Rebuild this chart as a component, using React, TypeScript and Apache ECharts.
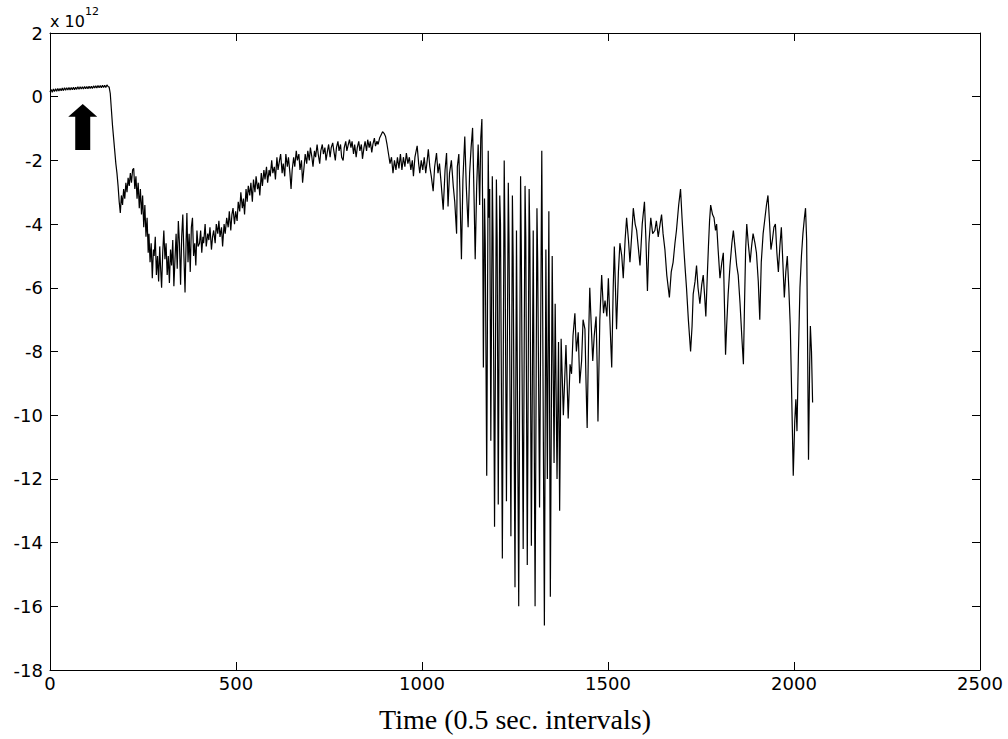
import React, { useEffect, useRef } from "react";
import * as echarts from "echarts";

type Pt = [number, number];

// Signal values (units of 1e12): [time index, value]
const flatPhase: Pt[] = [
  [0, 0.15], [3, 0.23], [6, 0.14], [9, 0.24], [12, 0.16], [15, 0.25], [18, 0.17], [21, 0.26],
  [24, 0.18], [27, 0.26], [30, 0.19], [33, 0.27], [36, 0.19], [39, 0.28], [42, 0.2], [45, 0.28],
  [48, 0.21], [51, 0.29], [54, 0.21], [57, 0.29], [60, 0.22], [63, 0.3], [66, 0.22], [69, 0.3],
  [72, 0.23], [75, 0.31], [78, 0.23], [81, 0.31], [84, 0.24], [87, 0.31], [90, 0.24], [93, 0.32],
  [96, 0.25], [99, 0.32], [102, 0.25], [105, 0.33], [108, 0.26], [111, 0.33], [114, 0.26],
  [117, 0.34], [120, 0.27], [123, 0.34], [126, 0.27], [129, 0.35], [132, 0.28], [135, 0.35],
  [138, 0.28], [141, 0.36], [144, 0.29], [147, 0.36], [150, 0.29], [153, 0.37], [156, 0.32], [159, 0.3],
];

const dropPhase: Pt[] = [
  [162, 0.1], [165, -0.4], [168, -0.9], [171, -1.3], [174, -1.7], [177, -2.1], [180, -2.4],
  [183, -2.8], [186, -3.3], [189, -3.65], [192, -3.1], [195, -3.4], [198, -2.9], [201, -3.2],
  [204, -2.7], [207, -3.0], [210, -2.55], [213, -2.8], [216, -2.4], [219, -2.7], [222, -2.3],
  [225, -2.25], [228, -2.9], [231, -2.5], [234, -3.2], [237, -2.7], [240, -3.5], [243, -2.9],
  [246, -3.7], [249, -3.1], [252, -4.1], [255, -3.4], [258, -4.4], [261, -3.8], [264, -4.9],
  [266, -4.3], [269, -5.2], [272, -4.6], [275, -5.7], [278, -4.8], [280, -5.0], [283, -4.4],
  [286, -5.6], [289, -5.0], [292, -5.8], [295, -4.7], [297, -5.3], [300, -6.0], [303, -4.9],
  [306, -4.2], [309, -5.1], [312, -4.6], [315, -5.6], [318, -5.0], [321, -5.85], [324, -4.8],
  [327, -5.3], [330, -4.5], [333, -5.95], [336, -5.1], [339, -4.3], [342, -5.4], [345, -3.9],
  [348, -4.6], [351, -5.9], [354, -4.4], [357, -3.7], [360, -5.0], [363, -6.15], [366, -4.5],
  [368, -3.65], [371, -5.2], [374, -4.3], [377, -5.5], [380, -4.1], [383, -3.8], [386, -5.0],
  [389, -4.6], [392, -5.3], [395, -4.2], [398, -4.7],
];

const recoveryPhase: Pt[] = [
  [402, -4.6], [405, -4.2], [408, -4.9], [411, -4.4], [413, -4.6], [417, -4.0], [420, -4.7],
  [424, -4.3], [427, -4.5], [430, -4.1], [434, -4.8], [437, -4.4], [440, -4.2], [444, -4.6],
  [447, -4.0], [451, -4.3], [454, -3.9], [457, -4.4], [461, -4.1], [464, -4.7], [468, -4.0],
  [471, -4.3], [475, -3.8], [479, -4.1], [482, -3.6], [486, -4.2], [489, -3.7], [492, -3.5],
  [496, -4.0], [499, -3.6], [503, -3.9], [506, -3.3], [510, -3.6], [513, -3.0], [517, -3.5],
  [520, -3.2], [523, -3.7], [527, -2.9], [530, -3.3], [533, -2.8], [537, -3.1], [540, -2.7],
  [544, -3.3], [547, -2.6], [551, -3.0], [554, -2.5], [558, -2.9], [561, -2.7], [564, -3.1],
  [568, -2.4], [571, -2.8], [575, -2.3], [578, -2.6], [582, -2.2], [585, -2.7], [589, -2.3],
  [592, -2.5], [596, -2.0], [599, -2.4], [603, -2.2], [606, -2.6], [610, -1.9], [613, -2.3],
  [617, -2.0], [620, -1.8], [624, -2.4], [627, -2.1], [631, -2.5], [634, -1.8], [638, -2.2],
  [641, -1.9], [645, -2.4], [648, -2.9], [651, -2.3], [655, -1.9], [658, -2.2], [662, -1.7],
  [665, -2.0], [669, -1.8], [672, -2.3], [676, -2.0], [679, -2.7], [683, -2.2], [686, -1.8],
  [690, -2.1], [693, -1.7], [697, -2.0], [700, -1.6], [704, -1.9], [707, -2.2], [711, -1.7],
  [714, -1.9], [718, -1.5], [721, -1.8], [725, -2.1], [728, -1.7], [732, -1.5], [735, -1.8],
  [739, -1.6], [742, -2.0], [746, -1.7], [749, -1.5], [753, -1.9], [756, -1.6], [760, -1.45],
  [763, -1.7], [767, -2.0], [770, -1.6], [774, -1.4], [777, -1.7], [781, -1.5], [784, -1.9],
  [788, -2.0], [791, -1.6], [795, -1.4], [798, -1.7], [802, -1.5], [805, -1.35], [809, -1.6],
  [812, -1.4], [816, -1.8], [819, -1.5], [823, -1.9], [826, -1.6], [830, -1.4], [833, -1.7],
  [837, -1.5], [840, -1.95], [844, -1.6], [847, -1.4], [851, -1.7], [854, -1.35], [858, -1.6],
  [861, -1.4], [865, -1.75], [868, -1.5], [872, -1.3], [875, -1.55], [879, -1.4], [882, -1.5],
];

const plateauPhase: Pt[] = [
  [886, -1.3], [890, -1.2], [894, -1.1], [898, -1.15], [902, -1.25], [906, -1.5], [910, -1.8],
  [914, -2.1], [918, -1.9], [922, -2.4], [926, -2.0], [930, -2.3], [934, -1.9], [938, -2.25],
  [942, -1.8], [946, -2.3], [950, -1.9], [954, -2.2], [958, -1.77], [962, -2.1], [966, -1.9],
  [970, -2.3], [974, -2.0], [977, -2.5], [981, -1.9], [987, -1.54], [991, -2.1], [994, -2.4],
  [998, -2.0], [1002, -2.3], [1006, -1.9], [1010, -2.4], [1014, -2.0], [1017, -1.65],
  [1021, -2.2], [1025, -2.5], [1030, -2.97], [1034, -2.2], [1039, -1.77], [1043, -2.4],
  [1047, -2.1], [1052, -2.8], [1057, -3.55], [1062, -2.3], [1066, -1.77], [1070, -3.45],
  [1074, -2.4], [1079, -2.0], [1084, -2.8], [1088, -3.3], [1093, -4.3], [1095, -2.2],
  [1099, -1.8], [1102, -3.0], [1106, -5.1], [1110, -2.6], [1115, -1.25], [1119, -2.8],
  [1124, -4.1], [1128, -2.4], [1132, -1.6], [1136, -0.98], [1140, -3.2], [1143, -5.1],
  [1147, -2.8], [1151, -1.5], [1155, -3.4], [1158, -1.3],
];

const turbulentPhase: Pt[] = [
  [1161, -0.7], [1163, -3.5], [1165, -8.5], [1168, -3.2], [1170, -4.6], [1174, -11.9],
  [1178, -1.7], [1180, -3.8], [1182, -2.9], [1185, -10.8], [1189, -2.5], [1191, -4.4],
  [1195, -13.5], [1200, -2.6], [1202, -4.5], [1205, -12.8], [1209, -3.1], [1211, -4.0],
  [1216, -14.5], [1221, -2.0], [1223, -4.3], [1227, -12.7], [1232, -2.7], [1234, -4.6],
  [1239, -13.8], [1243, -3.1], [1245, -5.0], [1250, -15.4], [1254, -4.2], [1260, -16.0],
  [1265, -2.5], [1267, -4.8], [1272, -14.2], [1277, -2.8], [1279, -4.4], [1283, -14.7],
  [1288, -2.9], [1290, -4.5], [1294, -14.1], [1299, -4.2], [1304, -16.0], [1309, -3.5],
  [1311, -5.2], [1316, -12.9], [1322, -1.7], [1329, -16.6], [1333, -4.8], [1337, -12.0],
  [1341, -3.6], [1345, -15.7], [1350, -5.0], [1355, -11.5], [1358, -6.5], [1363, -12.0],
  [1367, -7.7], [1370, -13.0], [1374, -7.6], [1380, -10.0], [1387, -7.8], [1393, -10.1],
  [1398, -8.4],
];

const settlingPhase: Pt[] = [
  [1402, -8.7], [1406, -7.5], [1411, -6.8], [1415, -8.0], [1420, -7.4], [1424, -9.0],
  [1429, -8.3], [1433, -7.0], [1438, -7.3], [1441, -9.0], [1444, -10.4], [1448, -7.5],
  [1451, -6.0], [1455, -7.2], [1459, -8.3], [1463, -7.5], [1468, -6.9], [1471, -8.5],
  [1473, -10.2], [1478, -7.0], [1483, -5.6], [1488, -6.8], [1492, -6.4], [1497, -6.9],
  [1501, -5.7], [1505, -7.0], [1510, -8.5], [1514, -6.0], [1517, -4.7], [1520, -6.0],
  [1523, -7.3], [1528, -5.5], [1532, -4.6], [1537, -5.0], [1541, -5.7], [1546, -4.5],
  [1550, -3.8], [1555, -4.5], [1559, -5.2], [1564, -4.3], [1568, -3.5], [1573, -4.0],
  [1577, -4.2], [1582, -4.8], [1586, -5.3], [1592, -4.0], [1598, -3.3], [1602, -4.5],
  [1606, -6.1], [1610, -4.6], [1615, -3.8], [1620, -4.3], [1626, -4.2], [1630, -3.9],
  [1635, -4.4], [1640, -4.0], [1644, -3.7], [1648, -4.3], [1653, -4.8], [1658, -5.6],
  [1665, -6.3], [1670, -5.5], [1675, -5.2], [1680, -4.6], [1684, -4.2], [1690, -3.4],
  [1695, -2.9], [1699, -3.8],
];

const finalPhase: Pt[] = [
  [1704, -4.8], [1708, -5.5], [1711, -6.0], [1716, -7.0], [1722, -8.0], [1726, -7.2],
  [1729, -6.2], [1734, -5.8], [1738, -5.3], [1742, -6.0], [1747, -6.5], [1752, -5.9],
  [1756, -5.6], [1760, -6.3], [1763, -6.9], [1767, -5.6], [1770, -4.7], [1773, -3.9],
  [1776, -3.4], [1781, -3.7], [1785, -3.8], [1789, -4.2], [1792, -4.0], [1796, -4.8],
  [1801, -5.7], [1806, -5.2], [1810, -4.9], [1813, -6.5], [1816, -8.1], [1819, -7.2],
  [1823, -6.2], [1828, -5.3], [1833, -4.6], [1837, -4.2], [1842, -4.8], [1846, -5.3],
  [1850, -5.6], [1855, -6.5], [1860, -7.6], [1864, -8.4], [1867, -6.5], [1870, -4.8],
  [1873, -4.0], [1877, -4.6], [1882, -5.2], [1886, -4.7], [1890, -4.3], [1895, -4.6],
  [1899, -4.9], [1904, -5.8], [1908, -7.0], [1912, -5.2], [1917, -4.3], [1922, -3.8],
  [1926, -3.4], [1930, -3.1], [1934, -3.9], [1938, -4.8], [1942, -4.5], [1946, -4.1],
  [1950, -4.0], [1954, -4.9], [1958, -5.5], [1962, -4.7], [1966, -4.1], [1970, -5.2],
  [1974, -6.3], [1978, -5.5], [1982, -5.0], [1986, -6.0], [1990, -7.2], [1994, -9.5],
  [1998, -11.9], [2002, -10.2], [2005, -9.5], [2008, -10.5], [2012, -8.0], [2016, -6.0],
  [2020, -5.0], [2024, -4.3], [2028, -3.8], [2031, -3.5], [2034, -4.5], [2036, -7.0],
  [2039, -11.4], [2042, -8.5], [2044, -7.2], [2047, -8.0], [2050, -9.6],
];

// Axis scales
const xMin = 0, xMax = 2500, xStep = 500;
const yMin = -18, yMax = 2, yStep = 2;
const axisTitle = "Time (0.5 sec. intervals)";
const exponentBase = "x 10";
const exponentPower = "12";

// Arrow annotation (data coords: time index and values)
const arrowT = 88;
const arrowTip = -0.23;
const arrowHeadBase = -0.63;
const arrowTail = -1.67;

const signal: Pt[] = [
  ...flatPhase, ...dropPhase, ...recoveryPhase, ...plateauPhase,
  ...turbulentPhase, ...settlingPhase, ...finalPhase,
];

export default function App() {
  const ref = useRef<HTMLDivElement>(null);

  useEffect(() => {
    if (!ref.current) return;
    const chart = echarts.init(ref.current, null, { renderer: "svg" });
    const black = "#000";
    const lineAxis = { show: true, onZero: false, lineStyle: { color: black, width: 1 } };
    const tick = { show: true, inside: true, length: 8, lineStyle: { color: black, width: 1 } };
    const labelFont = { color: black, fontFamily: "DejaVu Sans", fontSize: 18 };
    const plain = (v: number) => String(v);

    chart.setOption({
      animation: false,
      backgroundColor: "#fff",
      grid: { left: 50, right: 28, top: 33, bottom: 69, containLabel: false },
      xAxis: [
        {
          type: "value", min: xMin, max: xMax, interval: xStep, position: "bottom",
          axisLine: lineAxis, axisTick: tick, splitLine: { show: false },
          axisLabel: { ...labelFont, margin: 4, formatter: plain },
          name: axisTitle, nameLocation: "middle", nameGap: 35,
          nameTextStyle: { color: black, fontFamily: "Liberation Serif", fontSize: 28 },
        },
        {
          type: "value", min: xMin, max: xMax, interval: xStep, position: "top",
          axisLine: lineAxis, axisTick: tick, splitLine: { show: false },
          axisLabel: { show: false },
        },
      ],
      yAxis: [
        {
          type: "value", min: yMin, max: yMax, interval: yStep, position: "left",
          axisLine: lineAxis, axisTick: tick, splitLine: { show: false },
          axisLabel: { ...labelFont, margin: 7, formatter: plain },
        },
        {
          type: "value", min: yMin, max: yMax, interval: yStep, position: "right",
          axisLine: lineAxis, axisTick: tick, splitLine: { show: false },
          axisLabel: { show: false },
        },
      ],
      series: [
        {
          type: "line",
          xAxisIndex: 0,
          yAxisIndex: 0,
          data: signal,
          showSymbol: false,
          symbol: "none",
          lineStyle: { color: black, width: 1.2 },
          silent: true,
        },
      ],
    });

    const tip = chart.convertToPixel({ gridIndex: 0 }, [arrowT, arrowTip]) as number[];
    const head = chart.convertToPixel({ gridIndex: 0 }, [arrowT, arrowHeadBase]) as number[];
    const tail = chart.convertToPixel({ gridIndex: 0 }, [arrowT, arrowTail]) as number[];
    const cx = tip[0];
    const headHalf = 14.5;
    const shaftHalf = 7.5;

    chart.setOption({
      graphic: [
        {
          type: "polygon",
          shape: {
            points: [
              [cx, tip[1]],
              [cx + headHalf, head[1]],
              [cx + shaftHalf, head[1]],
              [cx + shaftHalf, tail[1]],
              [cx - shaftHalf, tail[1]],
              [cx - shaftHalf, head[1]],
              [cx - headHalf, head[1]],
            ],
          },
          style: { fill: black },
          silent: true,
        },
        {
          type: "text",
          left: 50,
          top: 13,
          style: { text: exponentBase, fill: black, font: "16px 'DejaVu Sans'" },
        },
        {
          type: "text",
          left: 85,
          top: 6,
          style: { text: exponentPower, fill: black, font: "11px 'DejaVu Sans'" },
        },
      ],
    });

    return () => chart.dispose();
  }, []);

  return (
    <div
      ref={ref}
      style={{ position: "fixed", left: 0, top: 0, width: 1008, height: 739, background: "#fff" }}
    />
  );
}
